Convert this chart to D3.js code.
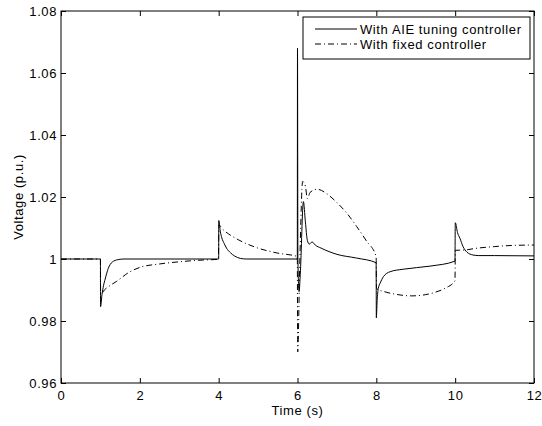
<!DOCTYPE html>
<html>
<head>
<meta charset="utf-8">
<script src="https://cdn.jsdelivr.net/npm/d3@7"></script>
<style>
  html, body { margin: 0; padding: 0; background: #fff; }
  svg text { font-family: "Liberation Sans", Arial, Helvetica, sans-serif; letter-spacing: 0.6px; }
</style>
</head>
<body>
<svg id="chart" width="542" height="426"></svg>
<script>
// time (s) / voltage (p.u.)
const aieTime = [0, 1.0, 1.003, 1.04, 1.08, 1.12, 1.2, 1.3, 1.45, 1.6,
  4.0, 4.003, 4.04, 4.08, 4.14, 4.2, 4.3, 4.4, 4.55, 4.7,
  5.995, 6.0, 6.01, 6.04, 6.07, 6.15, 6.2, 6.25, 6.3, 6.37, 6.45, 6.6, 7.0, 7.5, 7.995,
  8.0, 8.02, 8.05, 8.1, 8.18, 8.35, 8.68, 9.36, 9.995,
  10.003, 10.06, 10.12, 10.2, 10.3, 10.45, 10.6, 11, 12];
const aieVolt = [1, 1, 0.9846, 0.9885, 0.9915, 0.9935, 0.997, 0.999, 0.9998, 1,
  1, 1.0124, 1.009, 1.0068, 1.005, 1.0035, 1.002, 1.001, 1.0002, 1,
  1, 1.068, 1.0, 0.9895, 0.995, 1.0185, 1.012, 1.006, 1.0048, 1.0055, 1.0045, 1.0035, 1.0015, 1.0003, 0.9988,
  0.981, 0.9865, 0.9905, 0.9923, 0.9943, 0.9959, 0.9967, 0.9977, 0.9993,
  1.0117, 1.0085, 1.0067, 1.004, 1.0022, 1.0013, 1.0011, 1.0011, 1.001];

const fixedTime = [0, 1.0, 1.005, 1.1, 1.25, 1.4, 1.7, 2.0, 2.5, 3.0, 3.5, 3.995,
  4.005, 4.1, 4.25, 4.5, 5.0, 5.5, 5.995,
  6.005, 6.06, 6.13, 6.2, 6.25, 6.32, 6.5, 6.75, 7.0, 7.25, 7.5, 7.75, 7.995,
  8.005, 8.25, 8.5, 8.9, 9.25, 9.5, 9.75, 9.995,
  10.005, 10.25, 10.5, 11, 11.5, 12];
const fixedVolt = [1, 1, 0.9885, 0.99, 0.9915, 0.9927, 0.9955, 0.9973, 0.9984, 0.9991, 0.9996, 0.9999,
  1.011, 1.0096, 1.0081, 1.0062, 1.0035, 1.0019, 1.0008,
  0.970, 1.0, 1.025, 1.0235, 1.0195, 1.0215, 1.0225, 1.021, 1.0182, 1.0148, 1.0105, 1.0058, 1.0008,
  0.9905, 0.9893, 0.9886, 0.9881, 0.9885, 0.9893, 0.9906, 0.993,
  1.0028, 1.0029, 1.0034, 1.004, 1.0044, 1.0045];

const xTicks = [0, 2, 4, 6, 8, 10, 12];
const yTicks = [0.96, 0.98, 1, 1.02, 1.04, 1.06, 1.08];
const seriesNames = ["With AIE tuning controller", "With fixed controller"];

const margin = {left: 61, right: 8, top: 11, bottom: 43};
const width = 542, height = 426;

const svg = d3.select('#chart');

const x = d3.scaleLinear().domain([0, 12]).range([margin.left, width - margin.right]);
const y = d3.scaleLinear().domain([0.96, 1.08]).range([height - margin.bottom, margin.top]);

const fontSize = '13px';

// axes, ticks pointing inward like matlab
const gx = svg.append('g')
    .attr('transform', `translate(0,${y(0.96)})`)
    .call(d3.axisBottom(x).tickValues(xTicks).tickSize(-5).tickPadding(8).tickFormat(d3.format('~g')));
const gxTop = svg.append('g')
    .attr('transform', `translate(0,${y(1.08)})`)
    .call(d3.axisTop(x).tickValues(xTicks).tickSize(-5).tickFormat(''));
const gy = svg.append('g')
    .attr('transform', `translate(${x(0)},0)`)
    .call(d3.axisLeft(y).tickValues(yTicks).tickSize(-5).tickPadding(4).tickFormat(d3.format('~g')));
const gyRight = svg.append('g')
    .attr('transform', `translate(${x(12)},0)`)
    .call(d3.axisRight(y).tickValues(yTicks).tickSize(-5).tickFormat(''));

[gx, gxTop, gy, gyRight].forEach(g => {
    g.select('.domain').remove();
    g.selectAll('line').attr('stroke', '#000');
    g.selectAll('text').attr('fill', '#000').style('font-size', fontSize).attr('font-family', null);
});

// data lines
const line = (ts, vs) => d3.line()
    .curve(d3.curveMonotoneX)
    .x((d, i) => x(ts[i]))
    .y((d, i) => y(vs[i]))(ts);

svg.append('path')
    .attr('d', line(fixedTime, fixedVolt))
    .attr('fill', 'none')
    .attr('stroke', '#000')
    .attr('stroke-width', 1)
    .attr('stroke-dasharray', '6,3,1,3');

svg.append('path')
    .attr('d', line(aieTime, aieVolt))
    .attr('fill', 'none')
    .attr('stroke', '#000')
    .attr('stroke-width', 1);

// plot box
svg.append('rect')
    .attr('x', x(0)).attr('y', y(1.08))
    .attr('width', x(12) - x(0)).attr('height', y(0.96) - y(1.08))
    .attr('fill', 'none').attr('stroke', '#000').attr('stroke-width', 1);

// axis titles
svg.append('text')
    .attr('x', (x(0) + x(12)) / 2).attr('y', 415)
    .attr('text-anchor', 'middle').style('font-size', fontSize)
    .text('Time (s)');
svg.append('text')
    .attr('transform', `translate(23,${(y(0.96) + y(1.08)) / 2}) rotate(-90)`)
    .attr('text-anchor', 'middle').style('font-size', fontSize)
    .text('Voltage (p.u.)');

// legend
const legend = svg.append('g').attr('transform', 'translate(303,17)');
legend.append('rect')
    .attr('width', 227).attr('height', 42)
    .attr('fill', '#fff').attr('stroke', '#000').attr('stroke-width', 1);
seriesNames.forEach((name, i) => {
    const ly = 12 + i * 15;
    legend.append('line')
        .attr('x1', 12).attr('x2', 54).attr('y1', ly).attr('y2', ly)
        .attr('stroke', '#000').attr('stroke-width', 1)
        .attr('stroke-dasharray', i === 1 ? '6,3,1,3' : null);
    legend.append('text')
        .attr('x', 57).attr('y', ly).attr('dy', '0.35em')
        .style('font-size', fontSize)
        .text(name);
});
</script>
</body>
</html>
